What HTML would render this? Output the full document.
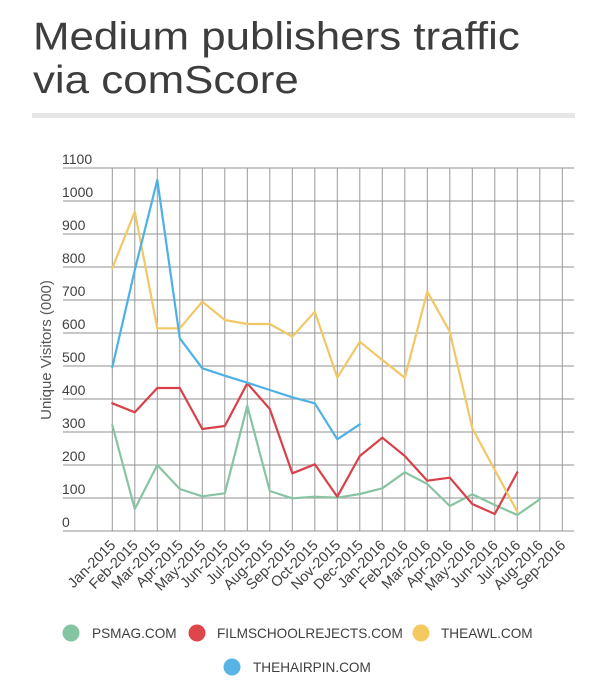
<!DOCTYPE html>
<html>
<head>
<meta charset="utf-8">
<style>
  html, body { margin: 0; padding: 0; background: #ffffff; }
  svg { display: block; }
  text { font-family: "Liberation Sans", Arial, sans-serif; }
</style>
</head>
<body>
<svg width="600" height="686" viewBox="0 0 600 686" xmlns="http://www.w3.org/2000/svg">
  <rect x="0" y="0" width="600" height="686" fill="#ffffff"/>

  <!-- Title -->
  <text transform="translate(33,49.5) scale(1.125,1)" font-size="39" fill="#3d3d3d">Medium publishers traffic</text>
  <text transform="translate(33,93) scale(1.125,1)" font-size="39" fill="#3d3d3d">via comScore</text>
  <rect x="32" y="113" width="543" height="5" fill="#e6e6e6"/>

  <!-- Horizontal gridlines -->
  <g stroke="#a8a8a8" stroke-width="1.2">
    <line x1="63" y1="168" x2="574" y2="168"/>
    <line x1="63" y1="201" x2="574" y2="201"/>
    <line x1="63" y1="234" x2="574" y2="234"/>
    <line x1="63" y1="267" x2="574" y2="267"/>
    <line x1="63" y1="300" x2="574" y2="300"/>
    <line x1="63" y1="333" x2="574" y2="333"/>
    <line x1="63" y1="366" x2="574" y2="366"/>
    <line x1="63" y1="399" x2="574" y2="399"/>
    <line x1="63" y1="432" x2="574" y2="432"/>
    <line x1="63" y1="465" x2="574" y2="465"/>
    <line x1="63" y1="498" x2="574" y2="498"/>
    <line x1="63" y1="531" x2="574" y2="531"/>
  </g>

  <!-- Vertical gridlines -->
  <g stroke="#999999" stroke-width="1">
    <line x1="112.3" y1="168" x2="112.3" y2="531"/>
    <line x1="134.8" y1="168" x2="134.8" y2="531"/>
    <line x1="157.3" y1="168" x2="157.3" y2="531"/>
    <line x1="179.8" y1="168" x2="179.8" y2="531"/>
    <line x1="202.3" y1="168" x2="202.3" y2="531"/>
    <line x1="224.8" y1="168" x2="224.8" y2="531"/>
    <line x1="247.3" y1="168" x2="247.3" y2="531"/>
    <line x1="269.8" y1="168" x2="269.8" y2="531"/>
    <line x1="292.3" y1="168" x2="292.3" y2="531"/>
    <line x1="314.8" y1="168" x2="314.8" y2="531"/>
    <line x1="337.3" y1="168" x2="337.3" y2="531"/>
    <line x1="359.8" y1="168" x2="359.8" y2="531"/>
    <line x1="382.3" y1="168" x2="382.3" y2="531"/>
    <line x1="404.8" y1="168" x2="404.8" y2="531"/>
    <line x1="427.3" y1="168" x2="427.3" y2="531"/>
    <line x1="449.8" y1="168" x2="449.8" y2="531"/>
    <line x1="472.3" y1="168" x2="472.3" y2="531"/>
    <line x1="494.8" y1="168" x2="494.8" y2="531"/>
    <line x1="517.3" y1="168" x2="517.3" y2="531"/>
    <line x1="539.8" y1="168" x2="539.8" y2="531"/>
    <line x1="562.3" y1="168" x2="562.3" y2="531"/>
  </g>

  <!-- Y tick labels -->
  <g font-size="14" fill="#404040">
    <text x="62" y="164">1100</text>
    <text x="62" y="197">1000</text>
    <text x="62" y="230">900</text>
    <text x="62" y="263">800</text>
    <text x="62" y="296">700</text>
    <text x="62" y="329">600</text>
    <text x="62" y="362">500</text>
    <text x="62" y="395">400</text>
    <text x="62" y="428">300</text>
    <text x="62" y="461">200</text>
    <text x="62" y="494">100</text>
    <text x="62" y="527">0</text>
  </g>

  <!-- Y axis title -->
  <text transform="translate(51,350) rotate(-90)" text-anchor="middle" font-size="15" fill="#555555">Unique Visitors (000)</text>

  <!-- X tick labels -->
  <g font-size="14.5" fill="#404040" text-anchor="end">
    <text transform="translate(116.3,546) rotate(-45)">Jan-2015</text>
    <text transform="translate(138.8,546) rotate(-45)">Feb-2015</text>
    <text transform="translate(161.3,546) rotate(-45)">Mar-2015</text>
    <text transform="translate(183.8,546) rotate(-45)">Apr-2015</text>
    <text transform="translate(206.3,546) rotate(-45)">May-2015</text>
    <text transform="translate(228.8,546) rotate(-45)">Jun-2015</text>
    <text transform="translate(251.3,546) rotate(-45)">Jul-2015</text>
    <text transform="translate(273.8,546) rotate(-45)">Aug-2015</text>
    <text transform="translate(296.3,546) rotate(-45)">Sep-2015</text>
    <text transform="translate(318.8,546) rotate(-45)">Oct-2015</text>
    <text transform="translate(341.3,546) rotate(-45)">Nov-2015</text>
    <text transform="translate(363.8,546) rotate(-45)">Dec-2015</text>
    <text transform="translate(386.3,546) rotate(-45)">Jan-2016</text>
    <text transform="translate(408.8,546) rotate(-45)">Feb-2016</text>
    <text transform="translate(431.3,546) rotate(-45)">Mar-2016</text>
    <text transform="translate(453.8,546) rotate(-45)">Apr-2016</text>
    <text transform="translate(476.3,546) rotate(-45)">May-2016</text>
    <text transform="translate(498.8,546) rotate(-45)">Jun-2016</text>
    <text transform="translate(521.3,546) rotate(-45)">Jul-2016</text>
    <text transform="translate(543.8,546) rotate(-45)">Aug-2016</text>
    <text transform="translate(566.3,546) rotate(-45)">Sep-2016</text>
  </g>

  <!-- Series -->
  <g fill="none" stroke-width="2.2" stroke-linejoin="round" stroke-linecap="round">
    <!-- PSMAG -->
    <polyline stroke="#88c4a3" points="112.3,425 134.8,509 157.3,465 179.8,489 202.3,496.3 224.8,493.3 247.3,405.7 269.8,491 292.3,498.3 314.8,496.7 337.3,497.7 359.8,494 382.3,488.3 404.8,472.3 427.3,484 449.8,506 472.3,494.3 494.8,505 517.3,515 539.8,499.3"/>
    <!-- FILMSCHOOLREJECTS -->
    <polyline stroke="#d8414a" points="112.3,403.3 134.8,412.3 157.3,388 179.8,388 202.3,429 224.8,426 247.3,383.3 269.8,409 292.3,473.3 314.8,464.3 337.3,496.7 359.8,456 382.3,437.7 404.8,456 427.3,480.7 449.8,477.7 472.3,504 494.8,514 517.3,472.3"/>
    <!-- THEAWL -->
    <polyline stroke="#f2c766" points="112.3,268.3 134.8,211.7 157.3,328.3 179.8,328.3 202.3,301.7 224.8,320 247.3,324 269.8,324 292.3,336.7 314.8,311.7 337.3,377.7 359.8,341.7 382.3,360 404.8,377.7 427.3,291.7 449.8,331.7 472.3,428.3 494.8,470 517.3,511.7"/>
    <!-- THEHAIRPIN -->
    <polyline stroke="#4eb1e6" points="112.3,367.3 134.8,270 157.3,180 179.8,338.3 202.3,368.3 224.8,375.7 247.3,382.7 269.8,390 292.3,397.3 314.8,403.3 337.3,439.3 359.8,424.3"/>
  </g>

  <!-- Legend -->
  <g font-size="13.6" fill="#404040">
    <circle cx="71" cy="633" r="8.5" fill="#85c4a1"/>
    <text x="92" y="638">PSMAG.COM</text>
    <circle cx="197" cy="633" r="8.5" fill="#df464c"/>
    <text x="217" y="638">FILMSCHOOLREJECTS.COM</text>
    <circle cx="421" cy="633" r="8.5" fill="#f4c95f"/>
    <text x="441" y="638">THEAWL.COM</text>
    <circle cx="232" cy="667" r="8.5" fill="#59b4e6"/>
    <text x="253" y="672">THEHAIRPIN.COM</text>
  </g>
</svg>
</body>
</html>
